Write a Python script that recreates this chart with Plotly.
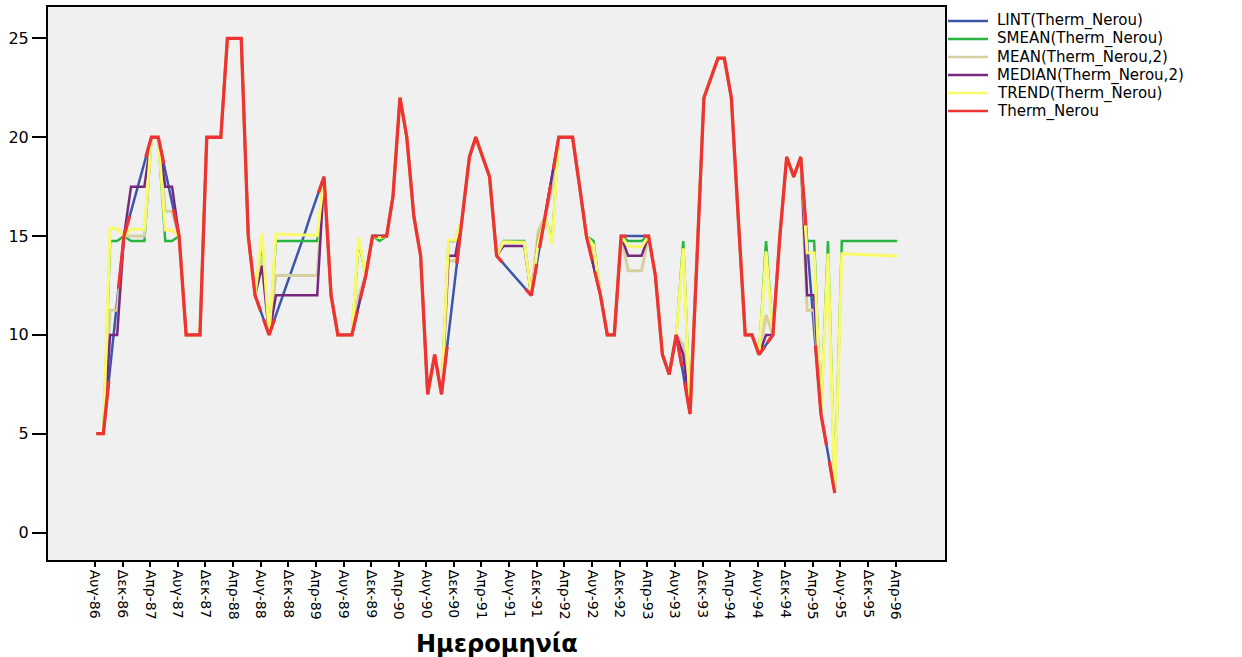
import pandas as pd
import plotly.graph_objects as go

# Monthly water temperature, one reading per month from Aug-1986 (None = missing)
therm_nerou = [
    5, 5, None, None, 15, None, None, None, 20, 20,
    None, None, 15, 10, 10, 10, 20, 20, 20, 25,
    25, 25, 15, 12, None, 10, None, None, None, None,
    None, None, None, 18, 12, 10, 10, 10, None, 13,
    15, None, 15, 17, 22, 20, 16, 14, 7, 9,
    7, None, None, 16, 19, 20, 19, 18, 14, None,
    None, None, None, 12, None, 16, None, 20, 20, 20,
    17.5, 15, None, 12, 10, 10, 15, None, None, None,
    15, 13, 9, 8, 10, None, 6, 14, 22, 23,
    24, 24, 22, 16, 10, 10, 9, None, 10, 15,
    19, 18, 19, None, None, 6, None, 2, None, None,
    None, None, None, None, None, None, None,
]

# Replacement values at the missing months, in time order
lint_fill = [8.33, 11.67, 16.25, 17.5, 18.75, 18.33, 16.67, 11,
             11, 12, 13, 14, 15, 16, 17, 11.5, 15, 10, 13,
             13.6, 13.2, 12.8, 12.4, 14, 18, 13.5, 15, 15, 15,
             8, 9.5, 14.67, 10.33, 4,
             None, None, None, None, None, None, None, None, None]
smean_value = 14.75
mean_fill = [11.25, 11.25, 15, 15, 15, 16.25, 16.25, 13.75,
             13, 13, 13, 13, 13, 13, 13, 12, 15, 13.75, 13.75,
             14.7, 14.7, 14.7, 14.7, 15.25, 17.5, 14.25, 13.25, 13.25, 13.25,
             9.5, 11, 11.25, 11.25, None,
             None, None, None, None, None, None, None, None, None]
median_fill = [10, 10, 17.5, 17.5, 17.5, 17.5, 17.5, 13.5,
               12, 12, 12, 12, 12, 12, 12, 11.5, 15, 14, 14,
               14.5, 14.5, 14.5, 14.5, 14.75, 18, 13.5, 14, 14, 14,
               9, 10, 12, 12, None,
               None, None, None, None, None, None, None, None, None]
trend_fill = [15.40, 15.38, 15.36, 15.35, 15.33, 15.30, 15.29, 15.13,
              15.10, 15.09, 15.08, 15.07, 15.05, 15.04, 15.03, 14.95, 14.92, 14.80, 14.78,
              14.70, 14.69, 14.67, 14.66, 14.64, 14.61, 14.54, 14.48, 14.47, 14.45,
              14.38, 14.23, 14.16, 14.15, 14.12,
              14.10, 14.09, 14.07, 14.06, 14.05, 14.04, 14.02, 14.01, 14.00]

tick_labels = ["Αυγ-86", "Δεκ-86", "Απρ-87", "Αυγ-87", "Δεκ-87", "Απρ-88",
               "Αυγ-88", "Δεκ-88", "Απρ-89", "Αυγ-89", "Δεκ-89", "Απρ-90",
               "Αυγ-90", "Δεκ-90", "Απρ-91", "Αυγ-91", "Δεκ-91", "Απρ-92",
               "Αυγ-92", "Δεκ-92", "Απρ-93", "Αυγ-93", "Δεκ-93", "Απρ-94",
               "Αυγ-94", "Δεκ-94", "Απρ-95", "Αυγ-95", "Δεκ-95", "Απρ-96"]

series_names = ["LINT(Therm_Nerou)", "SMEAN(Therm_Nerou)", "MEAN(Therm_Nerou,2)",
                "MEDIAN(Therm_Nerou,2)", "TREND(Therm_Nerou)", "Therm_Nerou"]
series_colors = ["#3C55A8", "#27B540", "#D5D0A2", "#76287F", "#F9F96C", "#EE3335"]
series_widths = [2.5, 2.5, 3, 2.5, 3, 3.3]

# Measurement dates (readings are taken early in each month)
dates = list(pd.date_range("1986-08-07", periods=len(therm_nerou),
                           freq=pd.DateOffset(months=1)))
tick_dates = list(pd.date_range("1986-08-01", periods=len(tick_labels),
                                freq=pd.DateOffset(months=4)))


def filled(fill):
    """Original series with each missing month replaced by the next fill value."""
    it = iter(fill)
    return [v if v is not None else next(it) for v in therm_nerou]


lint = filled(lint_fill)
smean = filled([smean_value] * sum(v is None for v in therm_nerou))
mean2 = filled(mean_fill)
median2 = filled(median_fill)
trend = filled(trend_fill)

fig = go.Figure()
for name, vals, col, w in zip(series_names[:5], [lint, smean, mean2, median2, trend],
                              series_colors[:5], series_widths[:5]):
    fig.add_trace(go.Scatter(x=dates, y=vals, mode="lines", name=name,
                             line=dict(color=col, width=w), connectgaps=False,
                             showlegend=False))

# Observed series: solid between readings, short runs into the gaps along the interpolation
stub = 0.8
red_x, red_y = [], []


def add_seg(p, q):
    if red_x and red_x[-1] is not None and red_x[-1] == p[0] and red_y[-1] == p[1]:
        red_x.append(q[0]); red_y.append(q[1])
    else:
        if red_x:
            red_x.append(None); red_y.append(None)
        red_x.extend([p[0], q[0]]); red_y.extend([p[1], q[1]])


for i in range(len(therm_nerou) - 1):
    a, b = therm_nerou[i], therm_nerou[i + 1]
    xa, xb = dates[i], dates[i + 1]
    if a is not None and b is not None:
        add_seg((xa, a), (xb, b))
    elif a is not None and lint[i + 1] is not None:
        add_seg((xa, a), (xa + stub * (xb - xa), a + stub * (lint[i + 1] - a)))
    elif b is not None and lint[i] is not None:
        add_seg((xb - stub * (xb - xa), b + stub * (lint[i] - b)), (xb, b))

fig.add_trace(go.Scatter(x=red_x, y=red_y, mode="lines", name=series_names[5],
                         line=dict(color=series_colors[5], width=series_widths[5]),
                         showlegend=False))

# Plot area geometry in pixels
W, H = 1242, 657
L, R, T, B = 48, 945, 5, 560
pw, ph = R - L, B - T

# Legend drawn beside the plot
shapes, annotations = [], []
for k, (name, col) in enumerate(zip(series_names, series_colors)):
    yc = 19 + 18.1 * k
    yp = (B - yc) / ph
    shapes.append(dict(type="line", xref="paper", yref="paper",
                       x0=(948 - L) / pw, x1=(988 - L) / pw, y0=yp, y1=yp,
                       line=dict(color=col, width=2.5)))
    annotations.append(dict(text=name, xref="paper", yref="paper",
                            x=(995 - L) / pw, y=yp, xanchor="left", yanchor="middle",
                            showarrow=False,
                            font=dict(family="DejaVu Sans", size=15, color="#000000")))

annotations.append(dict(text="<b>Ημερομηνία</b>", xref="paper", yref="paper",
                        x=0.5, y=(B - 644) / ph, xanchor="center", yanchor="middle",
                        showarrow=False,
                        font=dict(family="DejaVu Sans", size=24, color="#000000")))

fig.update_layout(
    width=W, height=H, autosize=False,
    margin=dict(l=L, r=W - R, t=T, b=H - B, pad=0),
    paper_bgcolor="#FFFFFF", plot_bgcolor="#F0F0F0",
    shapes=shapes, annotations=annotations,
    xaxis=dict(range=["1986-01-06", "1996-11-04"], tickvals=tick_dates, ticktext=tick_labels,
               tickangle=90, ticks="outside", ticklen=5, tickwidth=2, tickcolor="#000000",
               showline=True, linecolor="#000000", linewidth=2, mirror=True,
               showgrid=False, zeroline=False,
               tickfont=dict(family="DejaVu Sans", size=14, color="#000000")),
    yaxis=dict(range=[-1.39, 26.59], tickvals=[0, 5, 10, 15, 20, 25],
               ticks="outside", ticklen=14, tickwidth=2, tickcolor="#000000",
               showline=True, linecolor="#000000", linewidth=2, mirror=True,
               showgrid=False, zeroline=False,
               tickfont=dict(family="DejaVu Sans", size=16, color="#000000")),
)

fig.write_html("out.html")
